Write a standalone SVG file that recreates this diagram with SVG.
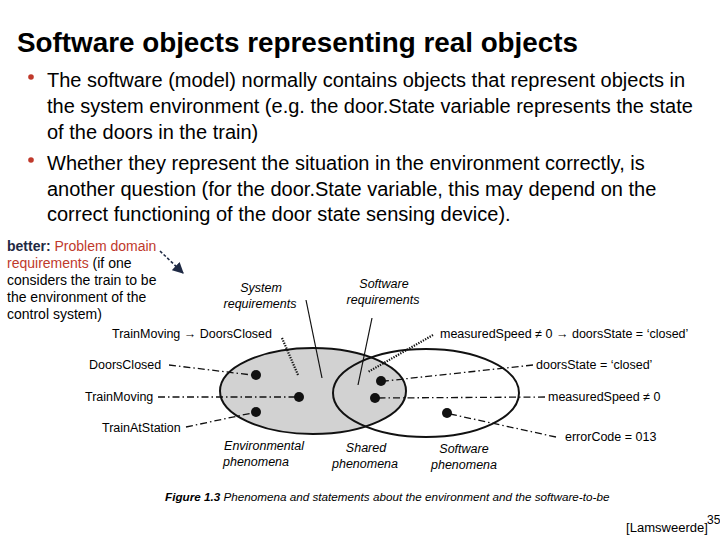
<svg xmlns="http://www.w3.org/2000/svg" width="720" height="540" viewBox="0 0 720 540">
<defs>
<style>
.t{font-family:"Liberation Sans",Arial,sans-serif;fill:#000}
.title{font-size:27.5px;font-weight:bold}
.b{font-size:20px}
.side{font-size:14px}
.lab{font-size:12.5px}
.it{font-size:12.5px;font-style:italic}
.cap{font-size:11.7px;font-style:italic}
.dd{stroke:#111;stroke-width:1.3;fill:none;stroke-dasharray:7 3 1.5 3}
.dot{stroke:#111;stroke-width:2.2;fill:none;stroke-dasharray:1.3 1.3}
.sol{stroke:#111;stroke-width:1.2;fill:none}
.pt{fill:#111}
</style>
<marker id="ah" viewBox="0 0 10 10" refX="9" refY="5" markerWidth="7" markerHeight="7" orient="auto"><path d="M0,0 L10,5 L0,10 z" fill="#1f2a44"/></marker>
</defs>
<rect width="720" height="540" fill="#fff"/>
<g id="title"><text class="t title" x="17" y="52" textLength="561" lengthAdjust="spacingAndGlyphs">Software objects representing real objects</text></g>
<g id="bullets">
<circle cx="31" cy="77" r="2.8" fill="#c0392b"/>
<text class="t b" x="47" y="87">The software (model) normally contains objects that represent objects in</text>
<text class="t b" x="47" y="113">the system environment (e.g. the door.State variable represents the state</text>
<text class="t b" x="47" y="139">of the doors in the train)</text>
<circle cx="31" cy="160" r="2.8" fill="#c0392b"/>
<text class="t b" x="47" y="170">Whether they represent the situation in the environment correctly, is</text>
<text class="t b" x="47" y="196">another question (for the door.State variable, this may depend on the</text>
<text class="t b" x="47" y="221">correct functioning of the door state sensing device).</text>
</g>
<g id="note">
<text class="t side" x="7" y="251"><tspan font-weight="bold" fill="#1f2a44">better:</tspan><tspan fill="#c0392b"> Problem domain</tspan></text>
<text class="t side" x="7" y="268"><tspan fill="#c0392b">requirements</tspan> (if one</text>
<text class="t side" x="7" y="285">considers the train to be</text>
<text class="t side" x="7" y="302">the environment of the</text>
<text class="t side" x="7" y="319">control system)</text>
</g>
<g id="env-set"><ellipse cx="313" cy="391" rx="93" ry="43" fill="#d2d2d2" stroke="#111" stroke-width="2"/></g>
<g id="sw-set"><ellipse cx="426" cy="393" rx="93" ry="44" fill="none" stroke="#111" stroke-width="2"/></g>
<g id="connectors">
<line x1="160" y1="251" x2="183" y2="273" stroke="#1f2a44" stroke-width="1.6" stroke-dasharray="3 2" marker-end="url(#ah)"/>
<line class="dd" x1="169" y1="365" x2="252" y2="375"/>
<line class="dd" x1="158" y1="397" x2="295" y2="397"/>
<line class="dd" x1="186" y1="427" x2="252" y2="413"/>
<line class="dd" x1="533" y1="365" x2="385" y2="381"/>
<line class="dd" x1="545" y1="397" x2="378" y2="398"/>
<line class="dd" x1="556" y1="437" x2="450" y2="414"/>
<line class="dot" x1="282" y1="338" x2="298" y2="375"/>
<line class="dot" x1="433" y1="335" x2="368" y2="372"/>
<line class="sol" x1="306" y1="300" x2="322" y2="378"/>
<line class="sol" x1="372" y1="318" x2="358" y2="385"/>
</g>
<g id="points">
<circle class="pt" cx="256" cy="375" r="5"/>
<circle class="pt" cx="299" cy="397" r="5"/>
<circle class="pt" cx="256" cy="412" r="5"/>
<circle class="pt" cx="381" cy="381" r="5"/>
<circle class="pt" cx="375" cy="398" r="5"/>
<circle class="pt" cx="447" cy="413" r="5"/>
</g>
<g id="labels">
<text class="t it" x="261" y="292" text-anchor="middle">System</text>
<text class="t it" x="260" y="308" text-anchor="middle">requirements</text>
<text class="t it" x="384" y="288" text-anchor="middle">Software</text>
<text class="t it" x="383" y="304" text-anchor="middle">requirements</text>
<text class="t lab" x="112" y="338">TrainMoving  → DoorsClosed</text>
<text class="t lab" x="89" y="369">DoorsClosed</text>
<text class="t lab" x="85" y="401">TrainMoving</text>
<text class="t lab" x="102" y="432">TrainAtStation</text>
<text class="t lab" x="440" y="338">measuredSpeed ≠ 0 → doorsState = ‘closed’</text>
<text class="t lab" x="536" y="369">doorsState = ‘closed’</text>
<text class="t lab" x="548" y="401">measuredSpeed ≠ 0</text>
<text class="t lab" x="565" y="441">errorCode = 013</text>
<text class="t it" x="264" y="450" text-anchor="middle">Environmental</text>
<text class="t it" x="256" y="466" text-anchor="middle">phenomena</text>
<text class="t it" x="366" y="452" text-anchor="middle">Shared</text>
<text class="t it" x="365" y="468" text-anchor="middle">phenomena</text>
<text class="t it" x="464" y="453" text-anchor="middle">Software</text>
<text class="t it" x="464" y="469" text-anchor="middle">phenomena</text>
<text class="t cap" x="165" y="501"><tspan font-weight="bold">Figure 1.3</tspan>   Phenomena and statements about the environment and the software-to-be</text>
</g>
<g id="ref">
<text class="t" x="626" y="532" font-size="12.5" textLength="82" lengthAdjust="spacingAndGlyphs">[Lamsweerde]</text>
<text class="t" x="707" y="524" font-size="12">35</text>
</g>
</svg>
